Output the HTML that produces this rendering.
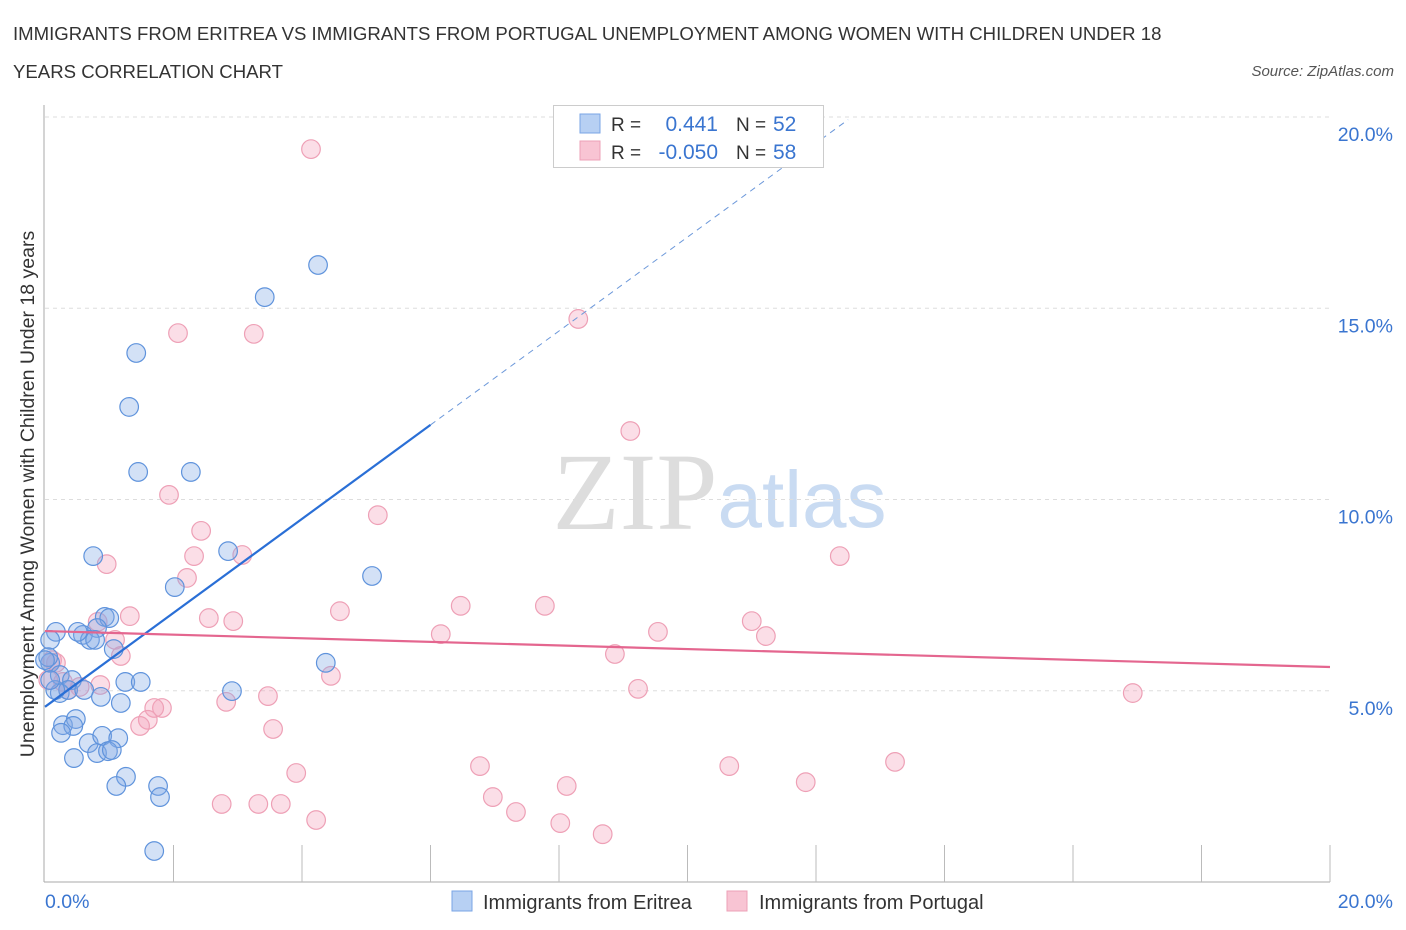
<!DOCTYPE html>
<html><head><meta charset="utf-8"><style>
body{margin:0;background:#fff;font-family:"Liberation Sans",sans-serif;}
svg{display:block}
</style></head><body>
<svg id="c" width="1406" height="930" xmlns="http://www.w3.org/2000/svg">
<text x="13" y="40" font-size="18.6" fill="#333">IMMIGRANTS FROM ERITREA VS IMMIGRANTS FROM PORTUGAL UNEMPLOYMENT AMONG WOMEN WITH CHILDREN UNDER 18</text>
<text x="13" y="78" font-size="18.6" fill="#333">YEARS CORRELATION CHART</text>
<text x="1394" y="76" font-size="15" fill="#555" font-style="italic" text-anchor="end">Source: ZipAtlas.com</text>
<g>
<text x="635" y="529" font-size="110" fill="#ddd" font-family="Liberation Serif,serif" text-anchor="middle">ZIP</text>
<text x="802" y="527" font-size="80" fill="#c9dbf2" text-anchor="middle">atlas</text>
</g>
<g id="grid"></g>
<g id="axes"></g>
<g id="marks"></g>
<g id="trend"></g>
<text transform="translate(34,494) rotate(-90)" font-size="19.5" fill="#333" text-anchor="middle">Unemployment Among Women with Children Under 18 years</text>
<text x="45" y="908" font-size="19.5" fill="#3a75d0">0.0%</text>
<text x="1393" y="908" font-size="19.5" fill="#3a75d0" text-anchor="end">20.0%</text>
<g>
<rect x="553.5" y="105.5" width="270" height="62" fill="#fff" stroke="#ccc"/>
<rect x="580" y="114" width="20" height="19" fill="#b7d0f3" stroke="#7aa5e6"/>
<rect x="580" y="141" width="20" height="19" fill="#f8c4d3" stroke="#eda0b7"/>
<text x="611" y="131" font-size="19" fill="#333">R =</text>
<text x="718" y="131" font-size="21" fill="#3a75d0" text-anchor="end">0.441</text>
<text x="736" y="131" font-size="19" fill="#333">N =</text>
<text x="773" y="131" font-size="21" fill="#3a75d0">52</text>
<text x="611" y="159" font-size="19" fill="#333">R =</text>
<text x="718" y="159" font-size="21" fill="#3a75d0" text-anchor="end">-0.050</text>
<text x="736" y="159" font-size="19" fill="#333">N =</text>
<text x="773" y="159" font-size="21" fill="#3a75d0">58</text>
</g>
<g>
<rect x="452" y="891" width="20" height="20" fill="#b7d0f3" stroke="#7aa5e6"/>
<text x="483" y="909" font-size="20" fill="#333">Immigrants from Eritrea</text>
<rect x="727" y="891" width="20" height="20" fill="#f8c4d3" stroke="#eda0b7"/>
<text x="759" y="909" font-size="20" fill="#333">Immigrants from Portugal</text>
</g>
</svg>
<script>
const yTicks=[5,10,15,20];
const yTickLabels=["5.0%","10.0%","15.0%","20.0%"];
const xTicks=[0,2,4,6,8,10,12,14,16,18,20];
const eritreaX=[4.25,3.42,1.42,1.31,1.45,2.27,2.85,0.75,2.02,5.09,0.93,1.00,0.17,0.59,0.81,0.70,1.07,4.37,0.08,0.23,0.42,1.25,1.49,2.91,0.23,0.36,0.61,0.87,1.18,0.28,0.48,0.44,0.25,0.68,0.89,1.14,0.81,0.98,1.04,0.45,1.26,1.76,1.11,1.79,1.70,0.08,0.05,0.16,0.51,0.08,0.78,0.0];
const eritreaY=[16.13,15.29,13.83,12.42,10.72,10.72,8.65,8.52,7.71,8.0,6.93,6.90,6.54,6.46,6.64,6.33,6.09,5.73,5.73,5.41,5.28,5.23,5.23,4.99,4.94,5.02,5.02,4.84,4.68,4.10,4.26,4.08,3.90,3.63,3.82,3.76,3.37,3.42,3.45,3.24,2.75,2.51,2.51,2.22,0.81,6.33,5.88,5.02,6.54,5.28,6.33,5.80];
const portugalX=[4.14,2.07,3.25,8.30,9.11,1.93,5.18,2.43,2.32,3.07,12.37,0.96,2.21,4.59,6.47,7.78,1.32,2.55,2.93,0.82,11.00,6.16,9.54,11.22,1.09,1.18,8.87,0.11,0.17,4.45,3.47,2.82,9.23,16.93,0.54,0.36,0.86,0.28,1.82,1.70,1.60,1.48,3.55,3.91,6.77,10.65,13.23,11.84,8.12,6.97,2.75,3.32,3.67,7.33,4.22,8.02,8.68,0.05];
const portugalY=[19.16,14.35,14.33,14.72,11.79,10.12,9.59,9.18,8.52,8.55,8.52,8.31,7.95,7.08,7.22,7.22,6.95,6.90,6.82,6.80,6.82,6.48,6.54,6.43,6.33,5.91,5.96,5.80,5.73,5.39,4.86,4.71,5.05,4.94,5.10,5.02,5.15,5.23,4.55,4.55,4.24,4.08,4.00,2.85,3.03,3.03,3.14,2.61,2.51,2.22,2.04,2.04,2.04,1.83,1.62,1.54,1.25,5.28];
const eritreaTrendX=[0,6.0,12.5];
const eritreaTrendY=[4.58,11.95,19.93];
const portugalTrendX=[0,20];
const portugalTrendY=[6.56,5.62];
const NS="http://www.w3.org/2000/svg";
const X0=45,X1=1330,Y0=882,Y1=117;
const sx=v=>X0+(X1-X0)*v/20, sy=v=>Y0-(Y0-Y1)*v/20;
function mk(tag,attrs,parent){const e=document.createElementNS(NS,tag);for(const k in attrs)e.setAttribute(k,attrs[k]);document.getElementById(parent).appendChild(e);return e;}
yTicks.forEach((t,i)=>{
 const g=mk('line',{x1:X0,x2:X1,y1:sy(t),y2:sy(t),stroke:'#ddd','stroke-dasharray':'4,4'},'grid');
 
 
 const l=mk('text',{x:1393,y:sy(t)+24,'font-size':19.5,fill:'#3a75d0','text-anchor':'end','font-family':'Liberation Sans,sans-serif'},'grid');
 l.textContent=yTickLabels[i];
 
 
});
const ya=mk('line',{x1:44,x2:44,y1:105,y2:Y0,stroke:'#aaa'},'axes');


const xa=mk('line',{x1:44,x2:X1,y1:Y0,y2:Y0,stroke:'#aaa'},'axes');


xTicks.forEach(t=>{if(t===0)return;
 const k=mk('line',{x1:sx(t),x2:sx(t),y1:845,y2:Y0,stroke:'#bbb'},'axes');
 
 
});
function dots(xs,ys,fill,stroke,name){xs.forEach((v,i)=>{
 const c=mk('circle',{cx:sx(v),cy:sy(ys[i]),r:9.3,fill:fill,stroke:stroke,'stroke-width':1.2},'marks');
 
 
});}
dots(portugalX,portugalY,'rgba(244,160,186,0.35)','#eea0b6','portugal-point');
dots(eritreaX,eritreaY,'rgba(130,170,230,0.35)','#5f93dc','eritrea-point');
const b1=mk('line',{x1:sx(eritreaTrendX[0]),y1:sy(eritreaTrendY[0]),x2:sx(eritreaTrendX[1]),y2:sy(eritreaTrendY[1]),stroke:'#2a6fd6','stroke-width':2.2},'trend');


const b2=mk('line',{x1:sx(eritreaTrendX[1]),y1:sy(eritreaTrendY[1]),x2:sx(eritreaTrendX[2]),y2:sy(eritreaTrendY[2]),stroke:'#6c98da','stroke-width':1,'stroke-dasharray':'6,5'},'trend');


const p1=mk('line',{x1:sx(portugalTrendX[0]),y1:sy(portugalTrendY[0]),x2:sx(portugalTrendX[1]),y2:sy(portugalTrendY[1]),stroke:'#e4668f','stroke-width':2.2},'trend');


</script>
</body></html>
